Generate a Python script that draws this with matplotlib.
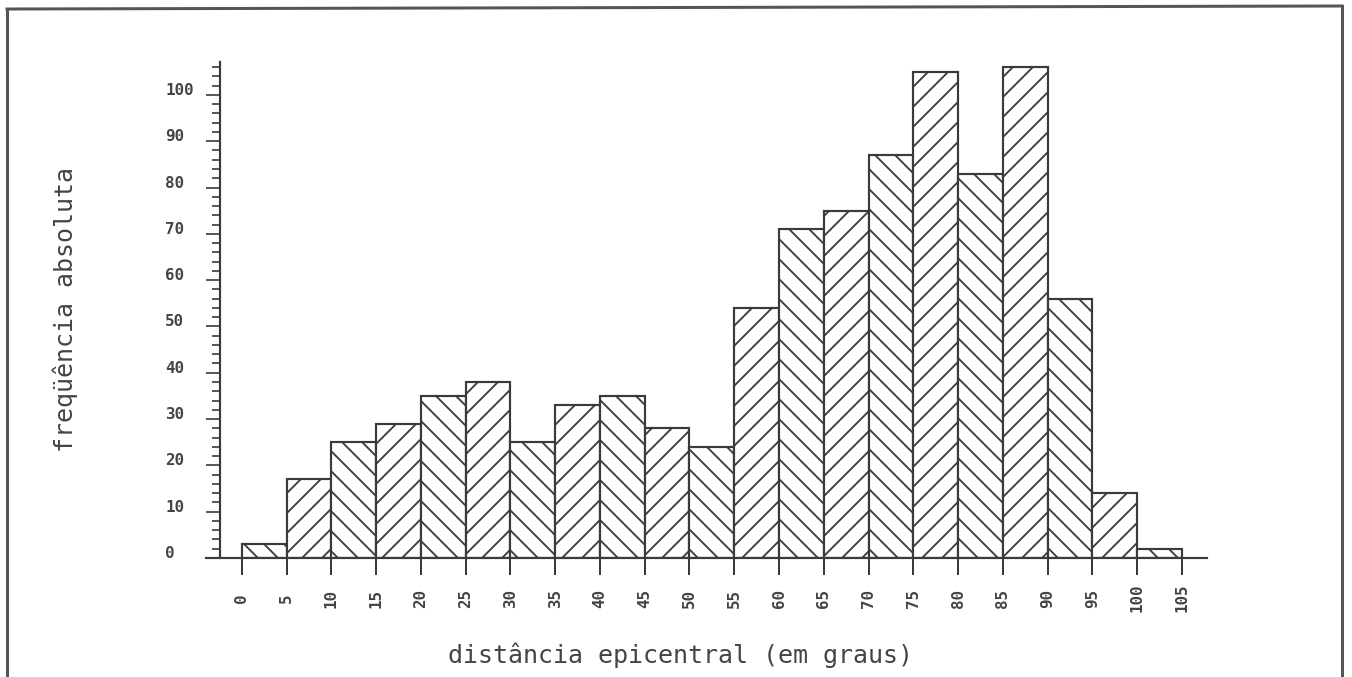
import matplotlib
matplotlib.use('Agg')
import matplotlib.pyplot as plt
from matplotlib.lines import Line2D
from matplotlib.ticker import MultipleLocator

# classes de distancia epicentral (inicio de cada classe, em graus)
bin_start = [0, 5, 10, 15, 20, 25, 30, 35, 40, 45, 50,
             55, 60, 65, 70, 75, 80, 85, 90, 95, 100]
# frequencia absoluta de cada classe
frequencia = [3, 17, 25, 29, 35, 38, 25, 33, 35, 28, 24,
              54, 71, 75, 87, 105, 83, 106, 56, 14, 2]
x_ticks = [0, 5, 10, 15, 20, 25, 30, 35, 40, 45, 50,
           55, 60, 65, 70, 75, 80, 85, 90, 95, 100, 105]
x_tick_labels = ['0', '5', '10', '15', '20', '25', '30', '35', '40', '45', '50',
                 '55', '60', '65', '70', '75', '80', '85', '90', '95', '100', '105']
y_ticks = [0, 10, 20, 30, 40, 50, 60, 70, 80, 90, 100]
y_tick_labels = ['0', '10', '20', '30', '40', '50', '60', '70', '80', '90', '100']

INK = '#3a3a3a'
TEXT = '#444444'
DPI = 120


def create_histogram():
    plt.rcParams['font.family'] = ['DejaVu Sans Mono']
    plt.rcParams['hatch.linewidth'] = 1.1
    plt.rcParams['hatch.color'] = INK

    fig = plt.figure(figsize=(1352 / DPI, 677 / DPI), dpi=DPI)
    fig.patch.set_facecolor('white')
    ax = fig.add_axes([206 / 1352, 119 / 677, 1001 / 1352, 496 / 677])

    bars = ax.bar(bin_start, frequencia, width=5, align='edge',
                  facecolor='white', edgecolor=INK, linewidth=1.3, zorder=2)
    # alternate hatch direction from bar to bar
    for i, patch in enumerate(bars):
        patch.set_hatch('\\\\' if i % 2 == 0 else '//')

    ax.set_xlim(-4.0, 107.8)
    ax.set_ylim(0, 107.1)

    # axes lines
    ax.spines['top'].set_visible(False)
    ax.spines['right'].set_visible(False)
    ax.spines['left'].set_position(('data', -2.46))
    for side in ('left', 'bottom'):
        ax.spines[side].set_color(INK)
        ax.spines[side].set_linewidth(1.3)

    # x ticks
    ax.set_xticks(x_ticks)
    ax.set_xticklabels(x_tick_labels, fontweight='bold')
    ax.tick_params(axis='x', direction='out', length=10.2, width=1.2,
                   color=INK, pad=13.8, labelsize=9.5, labelcolor=TEXT,
                   labelrotation=90)
    for lbl in ax.get_xticklabels():
        lbl.set_va('center')

    # y ticks (ruler style)
    ax.set_yticks(y_ticks)
    ax.set_yticklabels(y_tick_labels, fontweight='bold')
    ax.yaxis.set_minor_locator(MultipleLocator(2))
    ax.tick_params(axis='y', which='major', direction='out', length=8.4,
                   width=1.0, color=INK, pad=24.4, labelsize=9.5,
                   labelcolor=TEXT)
    ax.tick_params(axis='y', which='minor', direction='out', length=4.8,
                   width=1.0, color=INK)
    for lbl in ax.get_yticklabels():
        lbl.set_ha('left')
        lbl.set_va('baseline')

    # axis titles
    ax.set_xlabel('distância epicentral (em graus)', fontsize=15, color=TEXT)
    ax.xaxis.set_label_coords(0.4745, -0.1956)
    ax.xaxis.label.set_va('center')
    ax.set_ylabel('freqüência absoluta', fontsize=15, color=TEXT)
    ax.yaxis.set_label_coords(-0.1409, 0.5)
    ax.yaxis.label.set_va('center')

    # outer frame (no bottom edge)
    W, H = 1352, 677
    frame = dict(transform=fig.transFigure, color='#555555', linewidth=1.8)
    fig.add_artist(Line2D([7 / W, 7 / W], [0, 1 - 9 / H], **frame))
    fig.add_artist(Line2D([7 / W, 1342 / W], [1 - 9 / H, 1 - 6 / H], **frame))
    fig.add_artist(Line2D([1342 / W, 1342 / W], [1 - 6 / H, 0], **frame))

    fig.savefig('out.png', dpi=DPI, facecolor='white')


if __name__ == "__main__":
    create_histogram()
